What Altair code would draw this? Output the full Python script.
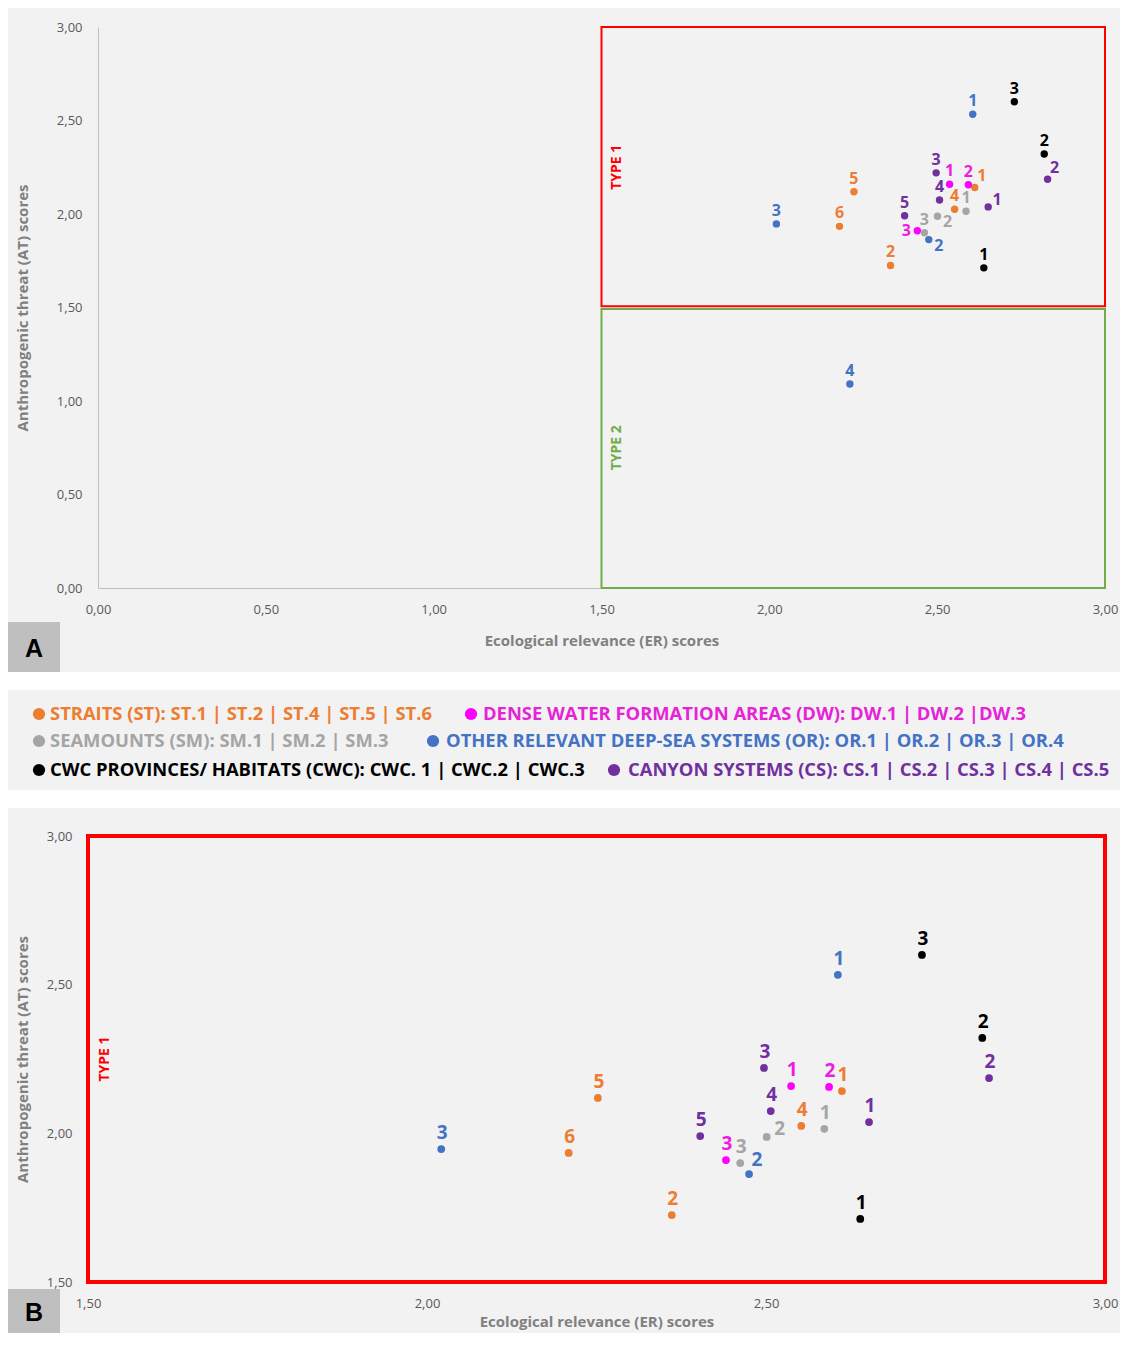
import altair as alt
import pandas as pd

# ---------------- data ----------------
groups = ["ST", "ST", "ST", "ST", "ST",
          "DW", "DW", "DW",
          "SM", "SM", "SM",
          "OR", "OR", "OR", "OR",
          "CWC", "CWC", "CWC",
          "CS", "CS", "CS", "CS", "CS"]
numbers = ["1", "2", "4", "5", "6",
           "1", "2", "3",
           "1", "2", "3",
           "1", "2", "3", "4",
           "1", "2", "3",
           "1", "2", "3", "4", "5"]
er_scores = [2.612, 2.361, 2.552, 2.252, 2.209,
             2.537, 2.593, 2.441,
             2.586, 2.501, 2.462,
             2.606, 2.475, 2.021, 2.240,
             2.639, 2.819, 2.730,
             2.652, 2.829, 2.497, 2.507, 2.403]
at_scores = [2.142, 1.725, 2.025, 2.119, 1.934,
             2.159, 2.156, 1.910,
             2.015, 1.988, 1.900,
             2.533, 1.863, 1.947, 1.091,
             1.712, 2.321, 2.600,
             2.038, 2.186, 2.220, 2.075, 1.991]
# label placement relative to the point (compass codes)
label_pos_a = ["NE", "N", "N", "N", "N",
               "N", "N", "W",
               "N", "SE", "N",
               "N", "SE", "N", "N",
               "N", "N", "N",
               "E", "NE", "N", "N", "N"]
label_pos_b = ["N", "N", "N", "N", "N",
               "N", "N", "N",
               "N", "E", "N",
               "N", "NE", "N", "N",
               "N", "N", "N",
               "N", "N", "N", "N", "N"]

group_order = ["ST", "DW", "SM", "OR", "CWC", "CS"]
group_colors = ["#ED7D31", "#FF00FF", "#A5A5A5", "#4472C4", "#000000", "#7030A0"]
label_colors = ["#ED7D31", "#EE1BE6", "#A5A5A5", "#4472C4", "#000000", "#7030A0"]
legend_text_colors = ["#ED7D31", "#E524D8", "#A5A5A5", "#4472C4", "#000000", "#7030A0"]

legend_texts = [
    "STRAITS (ST): ST.1 | ST.2 | ST.4 | ST.5 | ST.6",
    "DENSE WATER FORMATION AREAS (DW): DW.1 | DW.2 |DW.3",
    "SEAMOUNTS (SM): SM.1 | SM.2  | SM.3",
    "OTHER RELEVANT DEEP-SEA SYSTEMS (OR): OR.1  | OR.2  | OR.3 | OR.4",
    "CWC PROVINCES/ HABITATS (CWC): CWC. 1 | CWC.2 | CWC.3",
    "CANYON SYSTEMS (CS): CS.1 | CS.2  | CS.3 | CS.4 | CS.5",
]

zone_names = ["TYPE 1", "TYPE 2"]
zone_er0 = [1.5, 1.5]
zone_er1 = [3.0, 3.0]
zone_at0 = [1.5, 0.0]
zone_at1 = [3.0, 1.5]
zone_colors = ["#FF0000", "#70AD47"]

ticks_a = [0.0, 0.5, 1.0, 1.5, 2.0, 2.5, 3.0]
ticks_b = [1.5, 2.0, 2.5, 3.0]

x_title = "Ecological relevance (ER) scores"
y_title = "Anthropogenic threat (AT) scores"

# ---------------- layout constants ----------------
FONT = "'Open Sans', sans-serif"
TICKFONT = "'Open Sans', sans-serif"
W = 1007
HA = 561
HB = 446
LEFT = -90
RIGHT = 1022
OFFS_A = {"N": (0, -13), "NE": (7, -11), "E": (9, -7), "SE": (10, 6), "W": (-11, 0)}
OFFS_B = {"N": (1, -16), "NE": (8, -14), "E": (13, -8), "SE": (10, 6), "W": (-12, 0)}
# small pixel nudges of the zone frames in panel A so the shared edge shows both colours
ZONE_EDGE_NUDGE = {"TYPE 1": (-1.2, 0), "TYPE 2": (0, 1.6)}
# legend: group -> (dot x, text x, row y) in pixels of the legend panel
LEGEND_LAYOUT = {"ST": (-59, -48, 24), "DW": (373, 385, 24),
                 "SM": (-59, -48, 51), "OR": (335, 348, 51),
                 "CWC": (-59, -48, 80), "CS": (516, 530, 80)}

df = pd.DataFrame({"group": groups, "num": numbers, "er": er_scores, "at": at_scores,
                   "pos_a": label_pos_a, "pos_b": label_pos_b})
zones = pd.DataFrame({"zone": zone_names, "er0": zone_er0, "er1": zone_er1,
                      "at0": zone_at0, "at1": zone_at1})
one = pd.DataFrame({"k": [0]})

fmt = "replace(format(datum.value, '.2f'), '.', ',')"
pt_scale = alt.Scale(domain=group_order, range=group_colors)
lb_scale = alt.Scale(domain=group_order, range=label_colors)
zone_scale = alt.Scale(domain=zone_names, range=zone_colors)


def xenc(field, panel):
    if panel == "A":
        sc = alt.Scale(domain=[0, 3], nice=False, zero=False)
        ax = alt.Axis(values=ticks_a, labelExpr=fmt, title=x_title, grid=False, ticks=False,
                      tickSize=0, domain=True, domainColor="#BFBFBF", labelColor="#595959",
                      labelFont=TICKFONT, labelFontSize=13, labelPadding=15, labelFlush=False,
                      labelOverlap=False, titleFont=FONT, titleFontSize=15, titleColor="#808080",
                      titleFontWeight="bold", titlePadding=17)
    else:
        sc = alt.Scale(domain=[1.5, 3], nice=False, zero=False, range=[-10, W])
        ax = alt.Axis(values=ticks_b, labelExpr=fmt, title=x_title, grid=False, ticks=False,
                      tickSize=0, domain=False, labelColor="#595959",
                      labelFont=TICKFONT, labelFontSize=13, labelPadding=15, labelFlush=False,
                      labelOverlap=False, titleFont=FONT, titleFontSize=15, titleColor="#808080",
                      titleFontWeight="bold", titlePadding=4)
    return alt.X(field, type="quantitative", scale=sc, axis=ax)


def yenc(field, panel):
    if panel == "A":
        sc = alt.Scale(domain=[0, 3], nice=False, zero=False)
        ax = alt.Axis(values=ticks_a, labelExpr=fmt, title=y_title, grid=False, ticks=False,
                      tickSize=0, domain=True, domainColor="#BFBFBF", labelColor="#595959",
                      labelFont=TICKFONT, labelFontSize=13, labelPadding=16, labelFlush=False,
                      labelOverlap=False, titleFont=FONT, titleFontSize=15, titleColor="#808080",
                      titleFontWeight="bold", titlePadding=26)
    else:
        sc = alt.Scale(domain=[1.5, 3], nice=False, zero=False)
        ax = alt.Axis(values=ticks_b, labelExpr=fmt, title=y_title, grid=False, ticks=False,
                      tickSize=0, domain=False, labelColor="#595959",
                      labelFont=TICKFONT, labelFontSize=13, labelPadding=26, labelFlush=False,
                      labelOverlap=False, titleFont=FONT, titleFontSize=15, titleColor="#808080",
                      titleFontWeight="bold", titlePadding=16)
    return alt.Y(field, type="quantitative", scale=sc, axis=ax)


def spacer(y0, y1):
    return alt.Chart(one).mark_rect(opacity=0).encode(
        x=alt.value(LEFT), x2=alt.value(LEFT + 10), y=alt.value(y0), y2=alt.value(y1))


def letter_box(letter, y0, y1):
    box = alt.Chart(one).mark_rect(color="#BFBFBF").encode(
        x=alt.value(LEFT), x2=alt.value(-38), y=alt.value(y0), y2=alt.value(y1))
    txt = alt.Chart(one).mark_text(text=letter, font="'Liberation Sans', Arial, sans-serif",
                                   fontWeight="bold", fontSize=25, color="#000000",
                                   align="center", baseline="middle").encode(
        x=alt.value((LEFT - 38) / 2), y=alt.value((y0 + y1) / 2 + 2))
    return box + txt


def panel(name):
    offs = OFFS_A if name == "A" else OFFS_B
    pos_field = "pos_a" if name == "A" else "pos_b"
    lsize = 16 if name == "A" else 19
    zdata = alt.Chart(zones)
    if name == "B":
        zdata = zdata.transform_filter(alt.datum.zone == "TYPE 1")
        base = alt.Chart(df).transform_filter((alt.datum.at >= 1.5) & (alt.datum.er >= 1.5))
    else:
        base = alt.Chart(df)

    zrects = []
    shown = zone_names if name == "A" else ["TYPE 1"]
    for z in shown:
        yo, y2o = ZONE_EDGE_NUDGE[z] if name == "A" else (0, 0)
        zrects.append(alt.Chart(zones).transform_filter(alt.datum.zone == z).mark_rect(
            filled=False, strokeWidth=2 if name == "A" else 4, yOffset=yo, y2Offset=y2o).encode(
            x=xenc("er0", name), x2="er1", y=yenc("at0", name), y2="at1",
            stroke=alt.Stroke("zone:N", scale=zone_scale, legend=None)))
    ztext = zdata.transform_calculate(mid="(datum.at0 + datum.at1) / 2").mark_text(
        angle=270, fontWeight="bold", fontSize=14, font=FONT, dx=0, dy=15 if name == "A" else 17,
        align="center", baseline="middle").encode(
        x=xenc("er0", name), y=yenc("mid", name), text="zone:N",
        fill=alt.Fill("zone:N", scale=zone_scale, legend=None))
    pts = base.mark_circle(size=55 if name == "A" else 60, opacity=1).encode(
        x=xenc("er", name), y=yenc("at", name),
        color=alt.Color("group:N", scale=pt_scale, legend=None))
    layers = [spacer(-19 if name == "A" else -28, 0)] + zrects + [pts]
    for p, (dx, dy) in offs.items():
        layers.append(base.transform_filter(alt.datum[pos_field] == p).mark_text(
            dx=dx, dy=dy, fontSize=lsize, fontWeight="bold", font=FONT,
            align="center", baseline="middle").encode(
            x=xenc("er", name), y=yenc("at", name), text="num:N",
            color=alt.Color("group:N", scale=lb_scale, legend=None)))
    layers.append(ztext)
    if name == "A":
        layers.append(letter_box("A", 595, 645))
    else:
        layers.append(letter_box("B", 453, 497))
    return alt.layer(*layers).resolve_scale(color="independent", fill="independent").properties(
        width=W, height=HA if name == "A" else HB)


# ---------------- legend panel ----------------
leg = pd.DataFrame({
    "group": group_order,
    "text": legend_texts,
    "dot_x": [LEGEND_LAYOUT[g][0] for g in group_order],
    "text_x": [LEGEND_LAYOUT[g][1] for g in group_order],
    "row_y": [LEGEND_LAYOUT[g][2] for g in group_order],
})
leg_scale = alt.Scale(domain=group_order, range=group_colors)
leg_txt_scale = alt.Scale(domain=group_order, range=legend_text_colors)
strips = (alt.Chart(one).mark_rect(color="white").encode(
    x=alt.value(LEFT), x2=alt.value(RIGHT), y=alt.value(-18), y2=alt.value(0))
    + alt.Chart(one).mark_rect(color="white").encode(
    x=alt.value(LEFT), x2=alt.value(RIGHT), y=alt.value(100), y2=alt.value(118)))
leg_dots = alt.Chart(leg).mark_circle(size=150, opacity=1).encode(
    x=alt.X("dot_x:Q", scale=None, axis=None), y=alt.Y("row_y:Q", scale=None, axis=None),
    color=alt.Color("group:N", scale=leg_scale, legend=None))
leg_text = alt.Chart(leg).mark_text(font=FONT, fontWeight="bold", fontSize=18.4,
                                    align="left", baseline="middle").encode(
    x=alt.X("text_x:Q", scale=None, axis=None), y=alt.Y("row_y:Q", scale=None, axis=None),
    text="text:N", fill=alt.Fill("group:N", scale=leg_txt_scale, legend=None))
legend_panel = alt.layer(strips, leg_dots, leg_text).resolve_scale(
    color="independent", fill="independent").properties(width=W, height=100)

chart = alt.vconcat(panel("A"), legend_panel, panel("B"), spacing=0).properties(
    padding=0
).configure(background="#F2F2F2").configure_view(stroke=None)

chart.save("out.html", embed_options={"renderer": "svg", "actions": False})
